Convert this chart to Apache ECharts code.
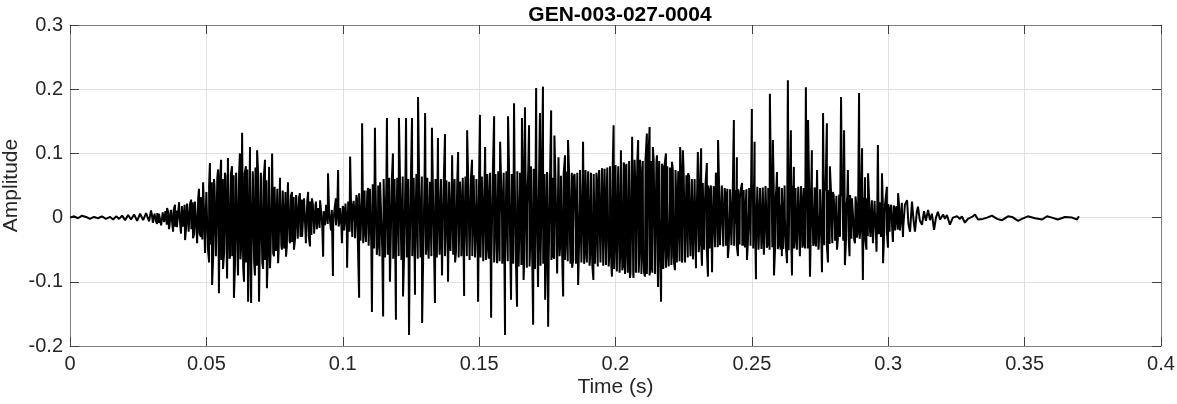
<!DOCTYPE html>
<html>
<head>
<meta charset="utf-8">
<title>GEN-003-027-0004</title>
<script src="https://cdn.jsdelivr.net/npm/echarts@6/dist/echarts.min.js"></script>
<style>
  html, body { margin: 0; padding: 0; background: #fff; }
  #chart { width: 1177px; height: 404px; }
</style>
</head>
<body>
<div id="chart"></div>
<script>
// waveform, as [time in ms, amplitude]
// near silence before the onset
const leadIn = [
  [0.0, 0.000], [1.5, 0.002], [2.9, -0.001], [4.4, 0.003], [5.9, 0.001], [7.3, -0.002],
  [8.8, 0.001], [10.3, -0.001], [11.7, 0.002], [13.2, -0.002], [14.7, 0.001], [15.8, -0.003],
  [16.9, 0.002], [18.0, -0.002], [19.1, 0.003], [20.2, -0.004], [21.3, 0.004], [22.4, -0.003],
  [23.5, 0.005], [24.6, -0.005], [25.7, 0.006], [26.8, -0.004], [27.9, 0.007], [29.0, -0.006],
  [29.7, 0.011], [30.4, -0.008]
];

// noisy consonant part, outer spikes
const noisePart = [
  [31.2, 0.008], [31.9, -0.010], [32.6, 0.006], [33.4, -0.012], [34.1, 0.010], [34.8, -0.008],
  [35.6, 0.015], [36.3, -0.018], [37.0, 0.012], [37.8, -0.022], [38.5, 0.020], [39.2, -0.015],
  [40.0, 0.024], [40.7, -0.025], [41.4, 0.018], [42.2, -0.035], [42.9, 0.022], [43.6, -0.020],
  [44.4, 0.028], [45.1, -0.032], [45.8, 0.025], [46.6, -0.040], [47.3, 0.045], [48.0, -0.030],
  [48.8, 0.055], [49.5, -0.055], [50.2, 0.040], [51.0, -0.070], [51.3, 0.085], [52.1, -0.105],
  [52.8, 0.060], [53.5, -0.060], [54.3, 0.075], [54.6, -0.118], [55.4, 0.090], [56.1, -0.080],
  [56.8, 0.070], [57.6, -0.095], [57.9, 0.093], [58.7, -0.060], [59.4, 0.080], [60.1, -0.125],
  [60.9, 0.070], [61.6, -0.090], [62.3, 0.100], [62.7, -0.050], [63.1, 0.132], [63.8, -0.100],
  [64.5, 0.080], [65.3, -0.131], [66.0, 0.110], [66.4, -0.133], [67.1, 0.060], [67.8, -0.090],
  [68.6, 0.105], [69.3, -0.131], [70.0, 0.070], [70.8, -0.080], [71.5, 0.090], [72.2, -0.110],
  [73.0, 0.079], [73.3, -0.079], [74.1, 0.100], [74.8, -0.060], [75.5, 0.050], [76.3, -0.071],
  [77.0, 0.062], [77.7, -0.050], [78.5, 0.045], [79.2, -0.061], [79.9, 0.055], [80.7, -0.040],
  [81.4, 0.040], [82.1, -0.050], [82.9, 0.035], [83.6, -0.035], [84.3, 0.038], [85.1, -0.030],
  [85.8, 0.030], [86.5, -0.040], [87.3, 0.040], [88.0, -0.045], [88.7, 0.030], [89.5, -0.020],
  [90.2, 0.025], [90.9, -0.015], [91.7, 0.027]
];

// voiced part, first half (rising), main peaks and troughs
const voicedA = [
  [92.8, -0.061], [93.9, 0.020], [94.6, 0.069], [95.7, -0.020], [96.4, -0.091], [97.5, 0.030],
  [98.3, 0.074], [99.0, 0.000], [99.7, -0.040], [100.5, 0.010], [101.6, -0.078], [102.7, 0.095],
  [103.8, 0.020], [104.5, -0.010], [105.2, 0.030], [106.0, -0.125], [107.1, 0.147], [108.2, -0.020],
  [109.3, 0.046], [110.7, -0.147], [111.8, 0.140], [112.9, -0.030], [113.7, 0.055], [114.8, -0.154],
  [116.2, 0.155], [117.3, -0.100], [118.4, 0.100], [119.5, -0.159], [120.6, 0.155], [122.1, -0.123],
  [123.2, 0.155], [124.3, -0.183], [125.4, 0.155], [126.5, -0.120], [127.6, 0.188], [129.1, -0.164],
  [130.2, 0.163], [131.3, -0.050], [132.7, 0.140], [133.8, -0.133], [134.9, 0.124], [136.4, -0.090],
  [137.5, 0.130], [138.6, -0.100], [140.1, 0.097], [141.2, -0.070], [142.3, 0.102], [143.4, 0.000],
  [144.5, -0.122], [145.6, 0.136], [146.7, -0.020], [147.4, 0.090], [148.5, -0.055], [149.0, 0.030],
  [149.6, -0.131], [150.3, 0.160], [151.4, -0.030], [152.2, 0.110], [153.3, -0.050], [153.8, 0.040],
  [154.4, -0.156], [155.5, 0.158], [156.6, -0.071], [157.7, 0.118], [158.4, 0.000], [159.5, -0.183],
  [160.6, 0.158], [161.7, -0.128], [162.8, 0.178], [163.9, -0.139], [165.0, 0.050], [165.4, -0.030],
  [165.7, 0.155], [166.3, -0.097], [166.8, 0.172], [167.6, 0.020], [168.3, 0.144], [169.0, 0.000],
  [169.8, -0.167], [170.9, 0.202], [171.6, -0.108], [172.3, 0.163], [172.9, 0.030], [173.4, 0.204],
  [174.2, -0.128], [174.9, 0.071], [175.3, -0.170], [176.4, 0.167], [177.1, -0.060], [177.6, 0.128],
  [178.6, -0.087], [179.1, 0.094], [180.0, -0.020], [180.8, -0.123], [181.5, 0.097], [182.0, 0.000],
  [182.6, 0.121], [183.3, -0.030], [184.1, -0.078], [184.6, 0.062], [185.5, -0.020], [186.3, -0.105],
  [187.0, 0.030], [188.1, 0.118], [188.8, -0.050], [189.9, 0.063], [190.7, -0.060], [191.4, 0.068],
  [191.9, -0.097], [192.9, 0.020], [193.6, 0.050], [194.3, -0.030], [195.1, 0.077], [195.8, -0.072],
  [196.9, 0.063], [198.0, -0.040], [198.7, -0.092], [199.3, 0.144], [200.2, -0.030], [200.9, 0.060],
  [201.7, -0.060], [202.0, 0.105], [202.8, -0.075], [203.3, 0.079], [204.2, -0.040], [205.3, -0.094]
];

// voiced part, second half (slower pitch, decaying), main peaks and troughs
const voicedB = [
  [206.1, 0.126], [206.6, -0.094], [207.5, 0.020], [208.3, 0.121], [209.0, -0.030], [209.5, 0.051],
  [210.1, -0.050], [210.8, -0.092], [211.5, 0.131], [211.9, 0.050], [212.5, 0.141], [213.0, -0.070],
  [213.7, 0.110], [214.5, -0.070], [215.2, 0.097], [215.6, -0.108], [216.1, 0.000], [216.7, -0.131],
  [217.4, 0.077], [218.0, -0.020], [218.5, 0.100], [219.1, -0.047], [220.0, 0.030], [220.7, 0.087],
  [221.3, -0.060], [221.8, -0.082], [222.5, 0.000], [223.7, 0.110], [224.4, -0.070], [224.7, 0.105],
  [225.5, -0.070], [226.6, 0.069], [227.3, -0.030], [228.0, 0.060], [228.4, -0.065], [229.5, -0.079],
  [230.2, 0.102], [231.0, -0.030], [231.4, 0.108], [231.7, -0.075], [232.8, 0.020], [233.5, 0.085],
  [233.9, -0.092], [234.6, 0.040], [235.4, -0.085], [236.1, 0.020], [236.8, 0.070], [237.6, 0.121],
  [238.3, -0.043], [239.0, 0.050], [239.8, -0.048], [240.5, 0.030], [241.2, -0.063], [242.0, 0.020],
  [242.7, -0.040], [243.4, 0.152], [244.2, -0.010], [244.5, 0.094], [244.9, -0.060], [245.6, 0.030],
  [246.4, 0.054], [247.1, -0.040], [247.7, 0.020], [248.2, -0.066], [248.9, 0.010], [249.5, -0.030],
  [250.0, 0.169], [250.4, 0.050], [251.0, 0.118], [251.5, -0.096], [252.1, 0.030], [252.4, -0.050],
  [253.0, 0.040], [253.7, -0.020], [254.4, -0.058], [255.2, 0.020], [255.9, -0.040], [256.6, 0.193],
  [257.2, 0.060], [257.7, 0.121], [258.1, -0.090], [258.7, 0.030], [259.2, 0.071], [259.9, -0.040],
  [260.7, 0.020], [261.0, -0.060], [262.1, 0.000], [262.9, -0.071], [263.2, 0.214], [263.8, 0.060],
  [264.3, 0.136], [264.7, -0.090], [265.1, 0.020], [265.4, 0.079], [266.2, -0.030], [266.9, 0.030],
  [267.6, -0.060], [268.4, 0.010], [269.1, -0.040], [269.8, 0.203], [270.2, 0.050], [270.6, 0.152],
  [271.3, -0.092], [271.7, 0.030], [272.0, 0.105], [272.8, -0.040], [273.3, 0.030], [273.9, 0.074],
  [274.4, -0.050], [275.0, 0.010], [275.7, -0.085], [276.1, 0.163], [276.6, 0.050], [277.5, 0.147],
  [277.9, -0.070], [278.3, 0.020], [278.6, 0.080], [279.4, -0.030], [279.7, 0.040], [280.5, -0.020],
  [281.2, -0.050], [281.9, 0.010], [282.3, -0.030], [282.7, 0.188], [283.2, 0.050], [283.8, 0.136],
  [284.1, -0.074], [284.7, 0.020], [285.2, 0.074], [285.8, -0.060], [286.3, 0.010], [286.7, 0.030],
  [287.4, -0.020], [287.8, -0.040], [288.5, 0.010], [288.9, -0.020], [289.3, 0.194], [289.8, -0.020],
  [290.4, 0.108], [290.7, -0.097], [291.1, 0.000], [291.5, 0.063], [292.0, -0.050], [292.6, 0.069],
  [293.3, -0.020], [293.9, 0.020], [294.4, -0.040], [295.1, 0.010], [295.7, -0.053], [296.2, 0.113],
  [296.8, 0.000], [297.3, -0.030], [297.7, 0.069], [298.1, -0.071], [298.8, 0.020], [299.5, 0.048],
  [299.9, -0.047], [300.6, 0.010], [301.4, 0.017], [301.7, -0.038], [302.5, 0.010], [303.0, -0.020],
  [303.6, 0.038], [304.3, -0.020], [305.0, 0.023], [305.4, -0.030]
];

// fading tail
const tailOut = [
  [306.1, 0.020], [306.9, 0.027], [307.4, -0.010], [308.0, -0.022], [308.7, 0.025], [309.3, -0.005],
  [309.8, -0.022], [310.5, 0.010], [310.9, 0.017], [311.6, -0.005], [312.4, -0.011], [313.1, 0.010],
  [313.8, -0.005], [314.6, 0.012], [315.3, -0.004], [316.0, 0.006], [316.8, -0.019], [317.5, 0.000],
  [318.2, 0.009], [319.0, -0.003], [320.1, 0.005], [320.8, -0.002], [321.5, 0.004], [322.6, -0.011],
  [323.7, 0.000], [325.2, 0.002], [326.3, -0.002], [327.0, 0.002], [328.1, -0.008], [329.2, -0.002],
  [330.7, 0.001], [331.8, 0.005], [332.9, -0.003], [334.7, -0.002], [336.2, 0.000], [338.0, 0.003],
  [339.9, -0.002], [341.7, -0.004], [343.9, 0.002], [345.4, 0.001], [347.6, -0.005], [349.0, -0.002],
  [351.2, 0.002], [353.8, -0.001], [356.4, -0.003], [358.2, 0.002], [360.0, 0.000], [362.2, -0.003],
  [364.8, 0.001], [367.4, 0.000], [369.2, -0.003], [369.9, 0.002]
];

// fine oscillation that fills the dense core, one sample every 0.5 ms from 30 ms
const rippleStartMs = 30;
const rippleStepMs = 0.5;
const ripple = [
  0.005,-0.006,0.006,-0.005,0.007,-0.008,0.006,-0.009,0.008,-0.007, 0.010,-0.011,0.009,-0.012,0.013,-0.010,0.012,-0.014,0.011,-0.013,
  0.015,-0.016,0.018,-0.014,0.020,-0.019,0.017,-0.022,0.021,-0.018, 0.024,-0.026,0.022,-0.028,0.030,-0.025,0.032,-0.034,0.029,-0.036,
  0.040,-0.045,0.050,-0.042,0.055,-0.060,0.048,-0.058,0.062,-0.052, 0.058,-0.066,0.060,-0.055,0.065,-0.070,0.057,-0.064,0.068,-0.060,
  0.066,-0.072,0.060,-0.075,0.070,-0.065,0.074,-0.078,0.068,-0.070, 0.075,-0.080,0.064,-0.074,0.072,-0.068,0.078,-0.075,0.066,-0.072,
  0.065,-0.070,0.060,-0.066,0.058,-0.062,0.055,-0.060,0.050,-0.056, 0.048,-0.052,0.045,-0.050,0.046,-0.044,0.042,-0.048,0.040,-0.045,
  0.038,-0.036,0.034,-0.038,0.032,-0.034,0.030,-0.033,0.032,-0.030, 0.028,-0.032,0.027,-0.030,0.026,-0.028,0.025,-0.027,0.022,-0.025,
  0.020,-0.018,0.015,-0.016,0.012,-0.014,0.010,-0.012,0.012,-0.010, 0.010,-0.012,0.012,-0.010,0.014,-0.012,0.012,-0.014,0.015,-0.012,
  0.018,-0.020,0.022,-0.018,0.025,-0.022,0.028,-0.030,0.026,-0.032, 0.035,-0.030,0.038,-0.036,0.034,-0.040,0.042,-0.038,0.040,-0.044,
  0.045,-0.050,0.052,-0.048,0.055,-0.058,0.050,-0.060,0.056,-0.052, 0.060,-0.062,0.054,-0.058,0.062,-0.056,0.058,-0.064,0.060,-0.055,
  0.062,-0.060,0.058,-0.066,0.064,-0.058,0.066,-0.062,0.060,-0.068, 0.065,-0.060,0.062,-0.066,0.068,-0.064,0.060,-0.062,0.064,-0.058,
  0.060,-0.058,0.062,-0.064,0.056,-0.060,0.058,-0.055,0.060,-0.062, 0.055,-0.058,0.060,-0.056,0.052,-0.060,0.058,-0.054,0.056,-0.052,
  0.055,-0.058,0.060,-0.054,0.058,-0.062,0.056,-0.060,0.062,-0.058, 0.064,-0.060,0.058,-0.066,0.062,-0.060,0.066,-0.062,0.060,-0.064,
  0.066,-0.062,0.064,-0.068,0.060,-0.066,0.068,-0.064,0.070,-0.066, 0.064,-0.070,0.068,-0.066,0.072,-0.068,0.066,-0.072,0.070,-0.068,
  0.072,-0.068,0.070,-0.074,0.068,-0.072,0.075,-0.070,0.072,-0.076, 0.070,-0.074,0.078,-0.072,0.075,-0.078,0.072,-0.076,0.080,-0.074,
  0.076,-0.080,0.074,-0.078,0.072,-0.075,0.070,-0.072,0.068,-0.070, 0.066,-0.068,0.064,-0.066,0.062,-0.064,0.060,-0.062,0.058,-0.060,
  0.065,-0.070,0.068,-0.066,0.072,-0.068,0.066,-0.072,0.070,-0.066, 0.068,-0.072,0.070,-0.068,0.074,-0.070,0.068,-0.072,0.074,-0.070,
  0.072,-0.075,0.070,-0.074,0.068,-0.072,0.070,-0.076,0.074,-0.070, 0.072,-0.075,0.076,-0.074,0.078,-0.076,0.080,-0.078,0.082,-0.080,
  0.082,-0.084,0.080,-0.086,0.084,-0.082,0.086,-0.088,0.084,-0.086, 0.088,-0.086,0.086,-0.088,0.090,-0.086,0.088,-0.086,0.090,-0.088,
  0.088,-0.086,0.090,-0.088,0.086,-0.090,0.088,-0.086,0.090,-0.088, 0.086,-0.084,0.088,-0.082,0.084,-0.080,0.082,-0.078,0.080,-0.076,
  0.078,-0.074,0.076,-0.072,0.074,-0.070,0.072,-0.068,0.070,-0.066, 0.068,-0.064,0.066,-0.062,0.064,-0.060,0.062,-0.058,0.060,-0.056,
  0.056,-0.054,0.055,-0.052,0.054,-0.050,0.052,-0.050,0.050,-0.048, 0.050,-0.048,0.049,-0.046,0.048,-0.046,0.047,-0.045,0.046,-0.045,
  0.046,-0.044,0.045,-0.046,0.044,-0.043,0.046,-0.044,0.043,-0.045, 0.044,-0.042,0.045,-0.044,0.043,-0.046,0.044,-0.042,0.046,-0.044,
  0.046,-0.048,0.044,-0.046,0.048,-0.045,0.046,-0.049,0.047,-0.046, 0.049,-0.047,0.046,-0.050,0.048,-0.046,0.050,-0.048,0.047,-0.049,
  0.048,-0.050,0.046,-0.049,0.050,-0.047,0.048,-0.051,0.049,-0.047, 0.050,-0.048,0.046,-0.050,0.048,-0.046,0.049,-0.047,0.046,-0.048,
  0.046,-0.048,0.044,-0.047,0.046,-0.044,0.047,-0.045,0.043,-0.046, 0.044,-0.042,0.045,-0.043,0.042,-0.044,0.043,-0.041,0.042,-0.040,
  0.035,-0.036,0.034,-0.035,0.036,-0.033,0.034,-0.036,0.033,-0.035, 0.034,-0.032,0.035,-0.033,0.032,-0.034,0.033,-0.031,0.032,-0.033,
  0.032,-0.030,0.031,-0.032,0.030,-0.029,0.028,-0.030,0.027,-0.028, 0.026,-0.027,0.025,-0.026,0.024,-0.025,0.023,-0.024,0.022,-0.023,
  0.021,-0.022,0.020,-0.021,0.019,-0.020,0.018,-0.019,0.017,-0.018,0.016,-0.015
];

const xTicks = { min: 0, max: 0.4, step: 0.05 };
const yTicks = { min: -0.2, max: 0.3, step: 0.1 };

const chart = echarts.init(document.getElementById('chart'));

// merge the peaks with the fine ripple, in time order, converted to seconds
const ripplePoints = ripple.map((a, i) => [rippleStartMs + i * rippleStepMs, a]);
const wave = [].concat(leadIn, noisePart, voicedA, voicedB, tailOut, ripplePoints)
  .sort((p, q) => p[0] - q[0])
  .map(p => [p[0] / 1000, p[1]]);

const frame = '#808080';
const tickCol = '#404040';
const textCol = '#262626';
const font = 'Liberation Sans, Arial, sans-serif';
const fmt = v => String(+v.toFixed(3));

const baseX = {
  type: 'value',
  min: xTicks.min,
  max: xTicks.max,
  interval: xTicks.step,
  axisLine: { show: true, onZero: false, lineStyle: { color: frame, width: 1 } },
  axisTick: { show: true, inside: true, length: 9, lineStyle: { color: tickCol } }
};
const baseY = {
  type: 'value',
  min: yTicks.min,
  max: yTicks.max,
  interval: yTicks.step,
  axisLine: { show: true, onZero: false, lineStyle: { color: frame, width: 1 } },
  axisTick: { show: true, inside: true, length: 9, lineStyle: { color: tickCol } }
};

chart.setOption({
  animation: false,
  title: {
    text: 'GEN-003-027-0004',
    left: 615,
    top: 0,
    textAlign: 'center',
    textStyle: { fontFamily: font, fontSize: 21, fontWeight: 'bold', color: '#000' }
  },
  grid: { left: 70, right: 16, top: 25, bottom: 58, containLabel: false, outerBoundsMode: 'none' },
  xAxis: [
    Object.assign({}, baseX, {
      position: 'bottom',
      name: 'Time (s)',
      nameLocation: 'middle',
      nameGap: 31,
      nameMoveOverlap: false,
      nameTextStyle: { fontFamily: font, fontSize: 21, color: textCol },
      axisLabel: { fontFamily: font, fontSize: 20, color: textCol, margin: 8, formatter: fmt },
      splitLine: { show: true, lineStyle: { color: '#e2e2e2', width: 1 } }
    }),
    Object.assign({}, baseX, {
      position: 'top',
      axisLabel: { show: false },
      splitLine: { show: false }
    })
  ],
  yAxis: [
    Object.assign({}, baseY, {
      position: 'left',
      name: 'Amplitude',
      nameLocation: 'middle',
      nameGap: 48,
      nameRotate: 90,
      nameMoveOverlap: false,
      nameTextStyle: { fontFamily: font, fontSize: 21, color: textCol },
      axisLabel: { fontFamily: font, fontSize: 20, color: textCol, margin: 7, formatter: fmt },
      splitLine: { show: true, lineStyle: { color: '#e2e2e2', width: 1 } }
    }),
    Object.assign({}, baseY, {
      position: 'right',
      axisLabel: { show: false },
      splitLine: { show: false }
    })
  ],
  series: [{
    type: 'line',
    data: wave,
    showSymbol: false,
    symbol: 'none',
    sampling: 'none',
    lineStyle: { color: '#000', width: 2 },
    z: 3
  }]
});
</script>
</body>
</html>
